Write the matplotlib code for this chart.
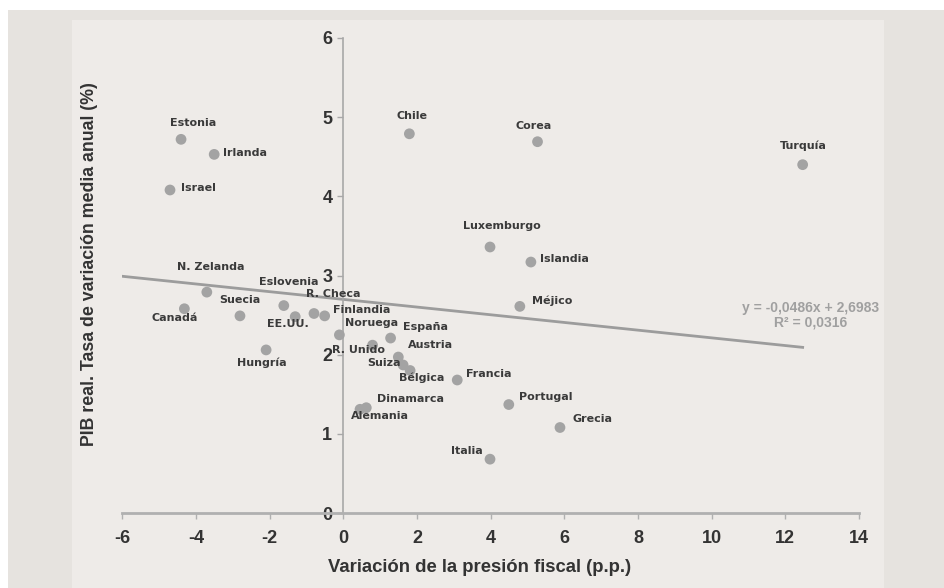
import matplotlib.pyplot as plt
from matplotlib.patches import Rectangle

# variación de la presión fiscal (p.p.) vs PIB real, tasa media anual (%)
paises = ["Estonia", "Irlanda", "Israel", "N. Zelanda", "Canadá", "Suecia",
          "Eslovenia", "EE.UU.", "R. Checa", "Finlandia", "Hungría", "Noruega",
          "R. Unido", "España", "Austria", "Suiza", "Bélgica", "Dinamarca",
          "Alemania", "Francia", "Portugal", "Grecia", "Italia", "Chile",
          "Corea", "Luxemburgo", "Islandia", "Méjico", "Turquía"]
presion = [-4.41, -3.51, -4.71, -3.71, -4.32, -2.81, -1.62, -1.31, -0.80,
           -0.51, -2.10, -0.11, 0.79, 1.28, 1.49, 1.62, 1.81, 0.62, 0.45,
           3.09, 4.49, 5.88, 3.98, 1.79, 5.27, 3.98, 5.09, 4.79, 12.47]
pib = [4.72, 4.53, 4.08, 2.79, 2.58, 2.49, 2.62, 2.48, 2.52, 2.49, 2.06,
       2.25, 2.12, 2.21, 1.97, 1.87, 1.80, 1.33, 1.31, 1.68, 1.37, 1.08,
       0.68, 4.79, 4.69, 3.36, 3.17, 2.61, 4.40]
# label offsets in points (dx, dy, ha)
offsets = {
    "Estonia": (8.5, 12, "center"), "Irlanda": (6.3, 1, "left"), "Israel": (8, 1.5, "left"),
    "N. Zelanda": (3, 18, "center"), "Canadá": (-7, -7, "center"), "Suecia": (0, 11.3, "center"),
    "Eslovenia": (3.5, 17, "center"), "EE.UU.": (-5, -5.5, "center"), "R. Checa": (14, 14, "center"),
    "Finlandia": (6, 4.3, "left"), "Hungría": (-3, -9.6, "center"), "Noruega": (4.3, 8.4, "left"),
    "R. Unido": (-29, -3.6, "left"), "España": (9, 7.6, "left"), "Austria": (7, 8.6, "left"),
    "Suiza": (-26, 1.5, "left"), "Bélgica": (-8, -5, "left"), "Dinamarca": (8, 6.5, "left"),
    "Alemania": (-6.5, -5, "left"), "Francia": (6.5, 4.6, "left"), "Portugal": (7.2, 5.3, "left"),
    "Grecia": (9, 6.2, "left"), "Italia": (-5, 6.2, "right"), "Chile": (1.7, 13, "center"),
    "Corea": (-2.6, 11.5, "center"), "Luxemburgo": (8.9, 15, "center"), "Islandia": (6.7, 2, "left"),
    "Méjico": (9, 3.8, "left"), "Turquía": (0.7, 13.4, "center"),
}
pendiente = -0.0486
constante = 2.6983
r2 = 0.0316

fig = plt.figure(figsize=(9.45, 5.88), dpi=100, facecolor="white")
fig.patches.append(Rectangle((8 / 945, 0), 937 / 945, 578 / 588, transform=fig.transFigure,
                             facecolor="#e6e3df", edgecolor="none", zorder=-2))
fig.patches.append(Rectangle((72 / 945, 0), 812 / 945, 568 / 588, transform=fig.transFigure,
                             facecolor="#eeebe8", edgecolor="none", zorder=-1))

ax = fig.add_axes([122.5 / 945, 75 / 588, 736.5 / 945, 475 / 588])
ax.patch.set_alpha(0)
ax.set_xlim(-6, 14)
ax.set_ylim(0, 6)

for s in ["top", "right"]:
    ax.spines[s].set_visible(False)
ax.spines["left"].set_position(("data", 0))
ax.spines["bottom"].set_position(("data", 0))
ax.spines["left"].set_color("#a8a8a8")
ax.spines["left"].set_linewidth(1.2)
ax.spines["bottom"].set_color("#b0b0b0")
ax.spines["bottom"].set_linewidth(2)

ax.set_xticks(range(-6, 15, 2))
ax.set_yticks(range(0, 7))
ax.tick_params(axis="x", direction="out", length=4, width=1, color="#b0b0b0", pad=8)
ax.tick_params(axis="y", direction="out", length=4, width=1, color="#a8a8a8", pad=4)
tick_font = dict(family="Liberation Sans", weight="bold", size=13)
ax.set_xticklabels([str(v) for v in range(-6, 15, 2)], color="#333333", **tick_font)
ax.set_yticklabels([str(v) for v in range(0, 7)], color="#333333", **tick_font)

# linea de tendencia, desde el borde izquierdo hasta el ultimo punto
xs = [-6, max(presion)]
ax.plot(xs, [pendiente * x + constante for x in xs], color="#9c9c9c", lw=2, zorder=2)

ax.scatter(presion, pib, s=60, color="#a3a3a3", edgecolors="none", zorder=3)

for nombre, x, y in zip(paises, presion, pib):
    dx, dy, ha = offsets[nombre]
    ax.annotate(nombre, (x, y), xytext=(dx, dy), textcoords="offset points",
                ha=ha, va="center", fontsize=8, fontweight="bold",
                color="#3a3a3a", family="DejaVu Sans")

ax.text(811 / 945, 1 - 315 / 588,
        f"y = {pendiente:.4f}x + {constante:.4f}\nR² = {r2:.4f}".replace(".", ","),
        transform=fig.transFigure, ha="center", va="center", fontsize=10, fontweight="bold",
        color="#a0a0a0", family="Liberation Sans", linespacing=1.05)

fig.text(90 / 945, 1 - 264 / 588, "PIB real. Tasa de variación media anual (%)", rotation=90,
         ha="center", va="center", fontsize=12.8, fontweight="bold", color="#333333",
         family="Liberation Sans")
fig.text(480 / 945, 1 - 568 / 588, "Variación de la presión fiscal (p.p.)",
         ha="center", va="center", fontsize=13.3, fontweight="bold", color="#333333",
         family="Liberation Sans")

fig.savefig("out.png", dpi=100, facecolor=fig.get_facecolor())
